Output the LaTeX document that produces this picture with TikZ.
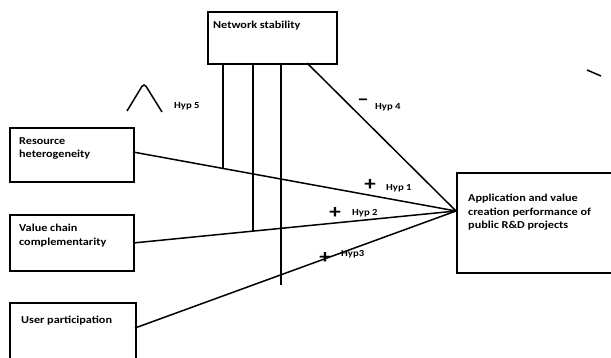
\documentclass[tikz,border=0pt]{standalone}
\usepackage{fontspec}
\setmainfont{Carlito}[FakeStretch=1.15]
\begin{document}
\begin{tikzpicture}[x=1pt,y=-1pt,
  box/.style={draw, line width=1.6pt, rectangle, inner sep=0pt, anchor=north west},
  boxtext/.style={anchor=north west, align=left, inner sep=0pt,
    font=\fontsize{10.6}{13.6}\selectfont\bfseries},
  conn/.style={line width=1.5pt},
  hyp/.style={inner sep=0pt, anchor=west, font=\fontsize{9.3}{10}\selectfont\bfseries},
  sign/.style={inner sep=0pt, font=\fontsize{20}{20}\selectfont\bfseries}]
\useasboundingbox (0,0) rectangle (611,357);
\clip (0,0) rectangle (611,357);

% boxes
\node[box, minimum width=129pt, minimum height=52pt] (net) at (207,11) {};
\node[box, minimum width=124pt, minimum height=54pt] (res) at (9,127) {};
\node[box, minimum width=124pt, minimum height=56pt] (val) at (9,214) {};
\node[box, minimum width=126pt, minimum height=80pt] (usr) at (9,302) {};
\node[box, minimum width=160pt, minimum height=100pt] (app) at (456,172) {};

% box texts
\node[boxtext] (nett) at (213,21) {Network stability};
\node[boxtext] (rest) at (19,137) {Resource\\heterogeneity};
\node[boxtext] (valt) at (19,224) {Value chain\\complementarity};
\node[boxtext] (usrt) at (21,316) {User participation};
\node[boxtext] (appt) at (468,194) {Application and value\\creation performance of\\public R\&D projects};

% connection points
\coordinate (hub) at (456,211);
\coordinate (resout) at (133,152);
\coordinate (valout) at (133,243);
\coordinate (usrout) at (135,328);
\coordinate (netout) at (307,63);

\draw[conn] (resout) -- (hub);
\draw[conn] (valout) -- (hub);
\draw[conn] (usrout) -- (hub);
\draw[conn] (netout) -- (hub);

% moderating lines from network stability
\coordinate (m1) at (223,168.4);
\coordinate (m2) at (253,231.1);
\coordinate (m3) at (281,285);
\draw[conn] (net.south -| m1) -- (m1);
\draw[conn] (net.south -| m2) -- (m2);
\draw[conn] (net.south -| m3) -- (m3);

% inverted-U mark and hypothesis labels
\draw[line width=1.5pt, rounded corners=4pt] (127,111) -- (144,83) -- (162,112);
\node[hyp] (h5) at (174,106) {Hyp 5};
\node[sign] (s4) at (363,102) {–};
\node[hyp] (h4) at (375,107) {Hyp 4};
\node[sign] (s1) at (370,185) {+};
\node[hyp] (h1) at (386,188) {Hyp 1};
\node[sign] (s2) at (335,213) {+};
\node[hyp] (h2) at (352,213) {Hyp 2};
\node[sign] (s3) at (325,258) {+};
\node[hyp] (h3) at (341,254) {Hyp3};

% stray stroke at the top right
\draw[line width=1.5pt] (587,70) -- (601,76);
\end{tikzpicture}
\end{document}
